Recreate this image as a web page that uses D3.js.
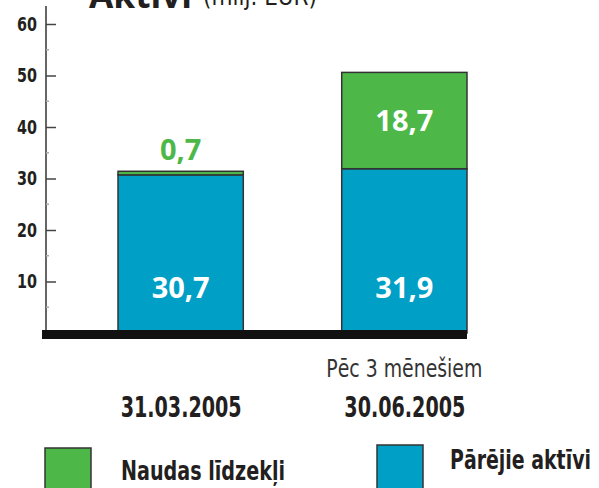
<!DOCTYPE html>
<html>
<head>
<meta charset="utf-8">
<script src="https://cdn.jsdelivr.net/npm/d3@7"></script>
<style>
  body { margin: 0; background: #fff; }
  svg { display: block; }
  .cond { font-family: 'DejaVu Sans', sans-serif; font-stretch: condensed; }
</style>
</head>
<body>
<div id="chart"></div>
<script>
// data
var categories = ["31.03.2005", "30.06.2005"];
var subLabels = ["", "Pēc 3 mēnešiem"];
var otherAssets = [30.7, 31.9];   // Pārējie aktīvi
var cashValues = [0.7, 18.7];     // Naudas līdzekļi
var yTicks = [10, 20, 30, 40, 50, 60];
var seriesNames = ["Naudas līdzekļi", "Pārējie aktīvi"];

var width = 599, height = 488;
var green = "#4db848", blue = "#00a0c6";
var bold = "'Open Sans', 'Noto Sans', sans-serif";

var svg = d3.select("#chart").append("svg")
  .attr("width", width)
  .attr("height", height);

var y = d3.scaleLinear().domain([0, 60]).range([333, 24]);
var x = d3.scaleBand().domain(categories).range([118, 467]).paddingInner(0.44).paddingOuter(0);

// condensed text helper: squeeze to the width measured on the original
function condText(sel, w) {
  sel.attr("class", "cond");
  if (w) sel.attr("textLength", w).attr("lengthAdjust", "spacingAndGlyphs");
  return sel;
}

// title, clipped by the top edge like the original
svg.append("text")
  .attr("x", 89).attr("y", 8)
  .attr("font-family", bold).attr("font-weight", 700)
  .attr("font-size", 36).attr("fill", "#231f20")
  .attr("textLength", 103).attr("lengthAdjust", "spacingAndGlyphs")
  .text("Aktīvi");
condText(svg.append("text"), 114)
  .attr("x", 203).attr("y", 5)
  .attr("font-size", 24).attr("fill", "#231f20")
  .text("(milj. EUR)");

// axis line
svg.append("line")
  .attr("x1", 46).attr("x2", 46)
  .attr("y1", y(0)).attr("y2", 6)
  .attr("stroke", "#666").attr("stroke-width", 2);

// minor ticks
svg.append("g").selectAll("line")
  .data(d3.range(5, 60, 10))
  .join("line")
  .attr("x1", 46).attr("x2", 49)
  .attr("y1", function(d) { return y(d); })
  .attr("y2", function(d) { return y(d); })
  .attr("stroke", "#aaa").attr("stroke-width", 1.5);

var axis = svg.append("g")
  .attr("transform", "translate(46,0)")
  .call(d3.axisLeft(y).tickValues(yTicks).tickSizeInner(-10).tickSizeOuter(0).tickPadding(9));
axis.select(".domain").remove();
axis.selectAll(".tick line").attr("stroke", "#444").attr("stroke-width", 1.5);
axis.selectAll(".tick text")
  .attr("class", "cond")
  .attr("font-weight", 700)
  .attr("font-size", 19).attr("fill", "#231f20")
  .attr("textLength", 20).attr("lengthAdjust", "spacingAndGlyphs");

// stacked bars
var bars = svg.append("g");
categories.forEach(function(c, i) {
  var b = otherAssets[i], g = cashValues[i];
  bars.append("rect")
    .attr("x", x(c)).attr("width", x.bandwidth())
    .attr("y", y(b)).attr("height", y(0) - y(b))
    .attr("fill", blue).attr("stroke", "#333").attr("stroke-width", 1.5);
  bars.append("rect")
    .attr("x", x(c)).attr("width", x.bandwidth())
    .attr("y", y(b + g)).attr("height", y(b) - y(b + g))
    .attr("fill", green).attr("stroke", "#333").attr("stroke-width", 1.5);

  // blue value near the bottom
  bars.append("text")
    .attr("x", x(c) + x.bandwidth() / 2).attr("y", y(0) - 35)
    .attr("text-anchor", "middle")
    .attr("font-family", bold).attr("font-weight", 700)
    .attr("font-size", 29).attr("fill", "#fff")
    .text(d3.format(".1f")(b).replace(".", ","));

  // green value: inside when tall enough, above otherwise
  var inside = (y(b) - y(b + g)) > 40;
  bars.append("text")
    .attr("x", x(c) + x.bandwidth() / 2)
    .attr("y", inside ? (y(b) + y(b + g)) / 2 + 10 : y(b + g) - 11)
    .attr("text-anchor", "middle")
    .attr("font-family", bold).attr("font-weight", 700)
    .attr("font-size", 29).attr("fill", inside ? "#fff" : green)
    .text(d3.format(".1f")(g).replace(".", ","));
});

// baseline
svg.append("rect")
  .attr("x", 42).attr("y", 330)
  .attr("width", 425).attr("height", 9)
  .attr("fill", "#111");

// category labels, centred under the bars
categories.forEach(function(c, i) {
  var cx = x(c) + x.bandwidth() / 2;
  condText(svg.append("text"), 121)
    .attr("x", cx - 60).attr("y", 417)
    .attr("font-weight", 700)
    .attr("font-size", 29).attr("fill", "#231f20")
    .text(c);
  if (subLabels[i]) {
    condText(svg.append("text"), 156)
      .attr("x", cx - 78).attr("y", 377)
      .attr("font-size", 25).attr("fill", "#333")
      .text(subLabels[i]);
  }
});

// legend
var legendX = [45, 377];
var legendTextW = [164, 141];
seriesNames.forEach(function(name, i) {
  svg.append("rect")
    .attr("x", legendX[i]).attr("y", i === 0 ? 448 : 445)
    .attr("width", 46).attr("height", 50)
    .attr("fill", i === 0 ? green : blue)
    .attr("stroke", "#333").attr("stroke-width", 1.5);
  condText(svg.append("text"), legendTextW[i])
    .attr("x", legendX[i] + (i === 0 ? 76 : 73)).attr("y", i === 0 ? 480 : 469)
    .attr("font-weight", 700)
    .attr("font-size", 27).attr("fill", "#231f20")
    .text(name);
});
</script>
</body>
</html>
